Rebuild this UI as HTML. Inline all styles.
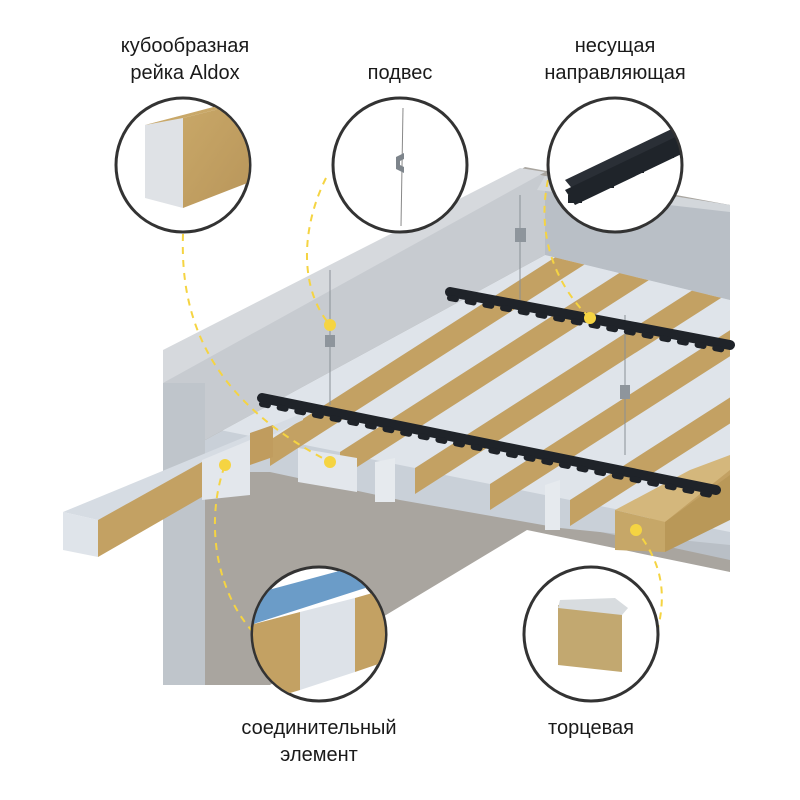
<!DOCTYPE html>
<html><head><meta charset="utf-8"><style>
html,body{margin:0;padding:0;background:#fff;width:800px;height:800px;overflow:hidden}
svg{display:block}
text{font-family:"Liberation Sans",sans-serif;font-size:20px;fill:#1a1a1a;text-anchor:middle}
</style></head><body>
<svg width="800" height="800" viewBox="0 0 800 800" xmlns="http://www.w3.org/2000/svg">
<defs>
<clipPath id="c1"><circle cx="183" cy="165" r="66"/></clipPath>
<clipPath id="c2"><circle cx="400" cy="165" r="66"/></clipPath>
<clipPath id="c3"><circle cx="615" cy="165" r="66"/></clipPath>
<clipPath id="c4"><circle cx="319" cy="634" r="66"/></clipPath>
<clipPath id="c5"><circle cx="591" cy="634" r="66"/></clipPath>
<clipPath id="ceil"><polygon points="205,440 545,255 730,300 730,545 560,528 400,500 270,472 205,472"/></clipPath>
<linearGradient id="wood" x1="0" y1="0" x2="1" y2="1"><stop offset="0" stop-color="#c9a868"/><stop offset="1" stop-color="#b8955a"/></linearGradient>
<g id="slat">
<polygon points="270,440 330,452 650,247 590,235" fill="#dfe4ea"/>
<polygon points="330,452 330,478 650,273 650,247" fill="#c3a163"/>
</g>
</defs>
<!-- back wall -->
<polygon points="163,383 525,167 730,205 730,572 527,530 270,685 163,685" fill="#a9a59f"/>
<!-- right wall -->
<polygon points="545,176 730,205 730,560 545,520" fill="#b9bfc6"/>
<!-- slats -->
<g clip-path="url(#ceil)">
<polygon points="205,440 545,255 730,300 730,560 205,560" fill="#c9d0d8"/>
<use href="#slat" transform="translate(400,80)"/>
<use href="#slat" transform="translate(320,64)"/>
<use href="#slat" transform="translate(240,48)"/>
<use href="#slat" transform="translate(160,32)"/>
<use href="#slat" transform="translate(85,16)"/>
<use href="#slat" transform="translate(10,0)"/>
<use href="#slat" transform="translate(-60,-12)"/>
</g>
<!-- top beam face -->
<polygon points="163,383 520,170 545,176 545,255 205,440 163,440" fill="#c7cbd0"/>
<polygon points="163,350 520,168 545,172 163,383" fill="#d6d9dd"/>
<polygon points="537,190 730,212 730,205 545,176" fill="#d3d7db"/>
<!-- left front strip -->
<polygon points="163,383 205,383 205,685 163,685" fill="#bfc5cb"/>
<!-- slat end faces -->
<polygon points="298,448 357,458 357,492 298,482" fill="#e3e7ec"/>
<polygon points="375,462 395,458 395,502 375,502" fill="#e6eaee"/>
<polygon points="545,485 560,480 560,530 545,530" fill="#e6eaee"/>
<!-- end box -->
<polygon points="615,510 665,522 665,552 615,550" fill="#c6a768"/>
<polygon points="615,510 690,470 730,455 730,470 665,522" fill="#d4b77c"/>
<polygon points="665,522 730,475 730,520 665,552" fill="#b99858"/>
<!-- front long rail -->
<polygon points="63,512 303,413 303,420 98,520" fill="#d6dce3"/>
<polygon points="63,512 98,520 98,557 63,550" fill="#dfe4ea"/>
<polygon points="98,520 202,462 202,497 98,557" fill="#c3a163"/>
<polygon points="202,460 250,440 250,495 202,500" fill="#e3e7ec"/>
<polygon points="250,433 273,425 273,457 250,465" fill="#c09c5e"/>
<!-- hangers -->
<g stroke="#8a9096" stroke-width="1" fill="none">
<line x1="330" y1="270" x2="330" y2="405"/>
<line x1="520" y1="195" x2="520" y2="300"/>
<line x1="625" y1="315" x2="625" y2="455"/>
</g>
<g fill="#8e959c">
<rect x="325" y="335" width="10" height="12"/>
<rect x="515" y="228" width="11" height="14"/>
<rect x="620" y="385" width="10" height="14"/>
</g>
<!-- carriers -->
<g stroke="#1f2329" stroke-linecap="round">
<line x1="262" y1="398" x2="716" y2="490" stroke-width="10"/>
<line x1="450" y1="292" x2="730" y2="345" stroke-width="10"/>
<line x1="262" y1="404" x2="716" y2="496" stroke-width="6" stroke-dasharray="6,12"/>
<line x1="450" y1="298" x2="730" y2="351" stroke-width="6" stroke-dasharray="6,12"/>
</g>
<!-- dashed connectors -->
<g stroke="#f5d442" stroke-width="2" fill="none" stroke-dasharray="7,6">
<path d="M183,234 C180,320 210,400 330,462"/>
<path d="M326,178 C300,230 300,290 330,325"/>
<path d="M548,180 C535,240 560,290 590,318"/>
<path d="M253,632 C215,590 205,520 225,465"/>
<path d="M657,632 C668,590 660,560 636,530"/>
</g>
<g fill="#f5d442">
<circle cx="225" cy="465" r="6"/><circle cx="330" cy="462" r="6"/>
<circle cx="330" cy="325" r="6"/><circle cx="590" cy="318" r="6"/>
<circle cx="636" cy="530" r="6"/>
</g>
<!-- circles -->
<g stroke="#333" stroke-width="3" fill="#fff">
<circle cx="183" cy="165" r="67"/><circle cx="400" cy="165" r="67"/><circle cx="615" cy="165" r="67"/>
<circle cx="319" cy="634" r="67"/><circle cx="591" cy="634" r="67"/>
</g>
<g clip-path="url(#c1)">
<polygon points="145,125 183,115 183,208 145,198" fill="#dfe2e6"/>
<polygon points="145,125 240,100 255,100 183,118" fill="#c9a868"/>
<polygon points="183,118 255,100 255,180 183,208" fill="url(#wood)"/>
</g>
<g clip-path="url(#c2)">
<line x1="403" y1="108" x2="401" y2="226" stroke="#888" stroke-width="1"/>
<path d="M396,157 l8,-4 v6 l-4,2 v4 l4,2 v6 l-8,-4z" fill="#7d848b"/>
</g>
<g clip-path="url(#c3)">
<polygon points="565,180 680,125 690,135 575,192" fill="#2a2f36"/>
<polygon points="565,190 690,130 690,150 575,205" fill="#1f242a"/>
<g fill="#1f242a"><rect x="568" y="195" width="14" height="8"/><rect x="600" y="180" width="14" height="8"/><rect x="630" y="165" width="14" height="8"/><rect x="660" y="150" width="14" height="8"/></g>
</g>
<g clip-path="url(#c4)">
<polygon points="250,595 380,560 390,580 250,625" fill="#6b9cc8"/>
<polygon points="250,625 300,612 300,690 250,705" fill="#c3a163"/>
<polygon points="300,612 355,598 355,672 300,690" fill="#dde2e8"/>
<polygon points="355,598 390,588 390,660 355,672" fill="#c3a163"/>
</g>
<g clip-path="url(#c5)">
<polygon points="558,605 622,612 622,672 558,665" fill="#c2a870"/>
<polygon points="560,600 615,598 628,608 622,615 558,608" fill="#d8dcdf"/>
</g>
<!-- labels -->
<text x="185" y="52">кубообразная</text>
<text x="185" y="79">рейка Aldox</text>
<text x="400" y="79">подвес</text>
<text x="615" y="52">несущая</text>
<text x="615" y="79">направляющая</text>
<text x="319" y="734">соединительный</text>
<text x="319" y="761">элемент</text>
<text x="591" y="734">торцевая</text>
</svg>
</body></html>
